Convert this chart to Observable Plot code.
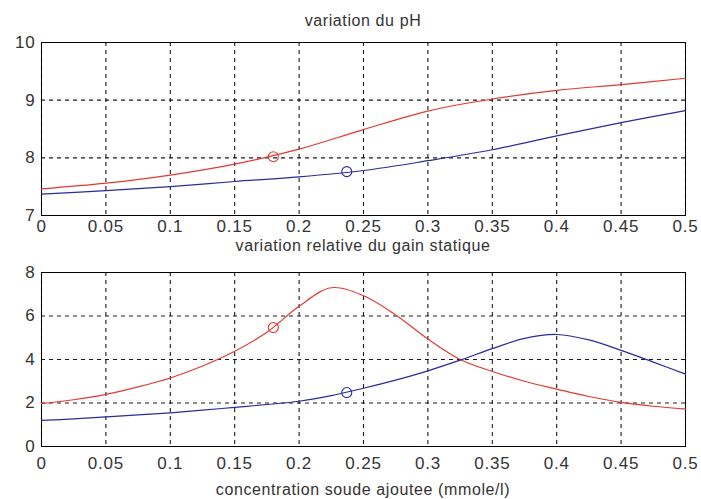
<!DOCTYPE html>
<html>
<head>
<meta charset="utf-8">
<script src="https://cdn.jsdelivr.net/npm/d3@7"></script>
<script src="https://cdn.jsdelivr.net/npm/@observablehq/plot@0.6"></script>
<style>
  html, body { margin: 0; padding: 0; background: #fff; }
  #wrap { position: relative; width: 701px; height: 499px; overflow: hidden; background: #fff; }
  .lbl { position: absolute; left: 41px; width: 644px; text-align: center;
         font-family: "Liberation Sans", Arial, sans-serif; font-size: 16px; line-height: 16px;
         color: #333; letter-spacing: 0.6px; }
  #p1, #p2 { position: absolute; left: 0; }
  #p1 { top: 0; }
  #p2 { top: 250px; }
</style>
</head>
<body>
<div id="wrap">
  <div id="p1"></div>
  <div id="p2"></div>
  <div class="lbl" style="top:13px">variation du pH</div>
  <div class="lbl" style="top:238px">variation relative du gain statique</div>
  <div class="lbl" style="top:482px">concentration soude ajoutee (mmole/l)</div>
</div>
<script>
// ---- data ----
const xTicks = [0, 0.05, 0.1, 0.15, 0.2, 0.25, 0.3, 0.35, 0.4, 0.45, 0.5];
const xTickLabels = ["0", "0.05", "0.1", "0.15", "0.2", "0.25", "0.3", "0.35", "0.4", "0.45", "0.5"];
const phTicks = [7, 8, 9, 10];
const gainTicks = [0, 2, 4, 6, 8];

const concPh = [0, 0.05, 0.1, 0.15, 0.2, 0.25, 0.3, 0.35, 0.4, 0.45, 0.5];
const phRed  = [7.46, 7.56, 7.7, 7.89, 8.15, 8.49, 8.81, 9.02, 9.17, 9.27, 9.38];
const phBlue = [7.37, 7.43, 7.5, 7.59, 7.67, 7.78, 7.95, 8.14, 8.38, 8.61, 8.82];

const concGain = [0, 0.025, 0.05, 0.075, 0.1, 0.125, 0.15, 0.175, 0.2, 0.225, 0.25,
                  0.275, 0.3, 0.325, 0.35, 0.375, 0.4, 0.425, 0.45, 0.475, 0.5];
const gainRed  = [1.97, 2.15, 2.4, 2.74, 3.15, 3.7, 4.38, 5.25, 6.45, 7.3, 6.93,
                  6.05, 4.94, 4.0, 3.45, 3.0, 2.64, 2.3, 2.03, 1.85, 1.72];
const gainBlue = [1.2, 1.27, 1.36, 1.45, 1.55, 1.67, 1.8, 1.93, 2.08, 2.34, 2.68,
                  3.05, 3.48, 3.97, 4.5, 4.97, 5.15, 4.9, 4.42, 3.88, 3.33];

const markerX   = [0.18, 0.237];
const markerPh  = [8.02, 7.76];
const markerGain = [5.47, 2.48];
const seriesColors = ["#e23a30", "#2b2b9c"];

// ---- build ----
const RED = seriesColors[0], BLUE = seriesColors[1];
const toPts = (xs, ys) => xs.map((x, i) => ({x, y: ys[i]}));
const markers = (ys) => markerX.map((x, i) => ({x, y: ys[i], c: seriesColors[i]}));
const fmtX = d => xTickLabels[xTicks.indexOf(d)] ?? String(d);
const fmtY = d => String(d);

function panel({yDomain, yTicks, red, blue, mk, height, marginTop, marginBottom, xPad}) {
  return Plot.plot({
    width: 701,
    height,
    marginLeft: 41,
    marginRight: 16,
    marginTop,
    marginBottom,
    style: {fontFamily: "'Liberation Sans', Arial, sans-serif", fontSize: "17px", color: "#333",
            background: "transparent", letterSpacing: "0.8px", overflow: "visible"},
    x: {domain: [0, 0.5]},
    y: {domain: yDomain},
    marks: [
      Plot.gridX(xTicks, {stroke: "#000", strokeOpacity: 0.9, strokeWidth: 1.1, strokeDasharray: "4,4"}),
      Plot.gridY(yTicks, {stroke: "#000", strokeOpacity: 0.9, strokeWidth: 1.1, strokeDasharray: "4,4"}),
      Plot.axisX(xTicks, {tickSize: 0, tickPadding: xPad, tickFormat: fmtX, label: null}),
      Plot.axisY(yTicks, {tickSize: 0, tickPadding: 6, tickFormat: fmtY, label: null}),
      Plot.frame({stroke: "#000", strokeWidth: 1}),
      Plot.line(red, {x: "x", y: "y", stroke: RED, strokeWidth: 1.2, curve: "catmull-rom"}),
      Plot.line(blue, {x: "x", y: "y", stroke: BLUE, strokeWidth: 1.2, curve: "catmull-rom"}),
      Plot.dot(mk, {x: "x", y: "y", r: 5, stroke: "c", strokeWidth: 1.1, fill: "none"})
    ]
  });
}

document.getElementById("p1").appendChild(panel({
  yDomain: [7, 10], yTicks: phTicks,
  red: toPts(concPh, phRed), blue: toPts(concPh, phBlue), mk: markers(markerPh),
  height: 250, marginTop: 42, marginBottom: 35, xPad: 4
}));
document.getElementById("p2").appendChild(panel({
  yDomain: [0, 8], yTicks: gainTicks,
  red: toPts(concGain, gainRed), blue: toPts(concGain, gainBlue), mk: markers(markerGain),
  height: 249, marginTop: 22, marginBottom: 53, xPad: 10
}));
</script>
</body>
</html>
